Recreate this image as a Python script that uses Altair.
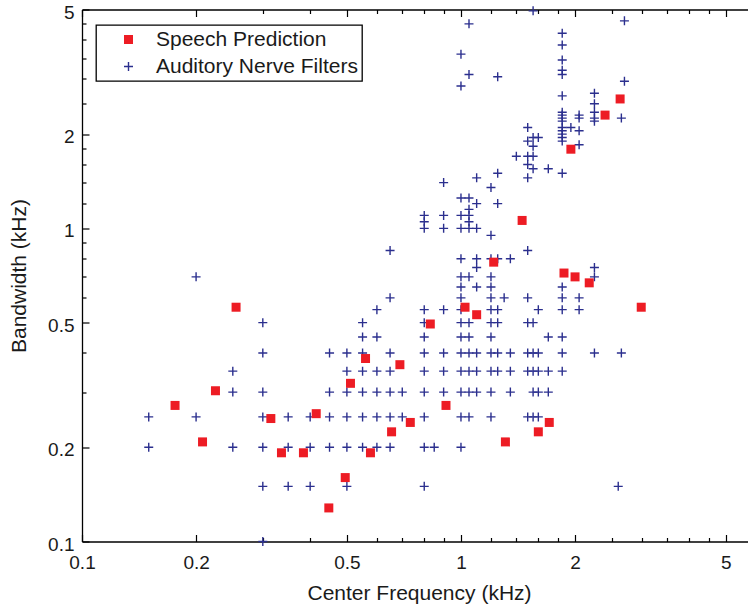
import altair as alt
import pandas as pd

SP = "Speech Prediction"
AN = "Auditory Nerve Filters"

# ---- Speech prediction (red squares) ----
sp_freq = [0.176, 0.208, 0.225, 0.255, 0.315, 0.336, 0.384, 0.415, 0.448, 0.495,
           0.511, 0.56, 0.577, 0.656, 0.69, 0.735, 0.83, 0.913, 1.025, 1.10,
           1.22, 1.31, 1.45, 1.60, 1.71, 1.87, 1.95, 2.0, 2.18, 2.40, 2.63, 2.99]
sp_bw = [0.272, 0.208, 0.303, 0.56, 0.247, 0.192, 0.192, 0.256, 0.128, 0.160,
         0.320, 0.384, 0.192, 0.224, 0.367, 0.24, 0.495, 0.272, 0.56, 0.53,
         0.78, 0.208, 1.06, 0.224, 0.24, 0.72, 1.79, 0.70, 0.67, 2.30, 2.59, 0.56]

# ---- Auditory nerve filters (blue +), grouped by bandwidth level ----
an_bw_levels = [0.1, 0.15, 0.2, 0.25, 0.3, 0.35, 0.4, 0.45, 0.5, 0.55, 0.6, 0.65,
                0.7, 0.75, 0.8, 0.85, 0.95, 1.0, 1.05, 1.1, 1.15, 1.2, 1.25, 1.35,
                1.4, 1.45, 1.5, 1.55, 1.6, 1.7, 1.83, 1.85, 1.9, 1.95, 2.0, 2.05,
                2.1, 2.2, 2.25, 2.3, 2.35, 2.5, 2.65, 2.7, 2.85, 2.95, 3.05, 3.1,
                3.2, 3.45, 3.6, 3.85, 4.2, 4.5, 4.6, 4.95]
an_freq_rows = [
    [0.3],
    [0.3, 0.35, 0.4, 0.5, 0.8, 2.6],
    [0.15, 0.25, 0.3, 0.35, 0.4, 0.45, 0.5, 0.55, 0.6, 0.65, 0.8, 0.85, 1.0],
    [0.15, 0.2, 0.3, 0.35, 0.4, 0.45, 0.5, 0.55, 0.6, 0.65, 0.7, 0.8, 1.0, 1.05, 1.2, 1.5, 1.55, 1.6],
    [0.25, 0.3, 0.45, 0.5, 0.55, 0.6, 0.65, 0.7, 0.8, 0.9, 1.0, 1.05, 1.1, 1.2, 1.35, 1.55, 1.6, 1.7],
    [0.25, 0.5, 0.55, 0.6, 0.65, 0.8, 0.9, 1.0, 1.05, 1.1, 1.2, 1.25, 1.35, 1.5, 1.55, 1.6, 1.7, 1.85],
    [0.3, 0.45, 0.5, 0.55, 0.65, 0.8, 0.9, 1.0, 1.05, 1.1, 1.2, 1.25, 1.35, 1.5, 1.55, 1.6, 1.85, 2.25, 2.65],
    [0.55, 0.6, 0.8, 1.0, 1.05, 1.2, 1.7, 1.85],
    [0.3, 0.55, 0.8, 1.0, 1.05, 1.2, 1.25, 1.5, 1.55],
    [0.6, 0.8, 0.9, 1.0, 1.2, 1.25, 1.6, 1.85, 2.05],
    [0.65, 1.0, 1.2, 1.3, 1.5, 1.85, 2.05],
    [1.0, 1.1, 1.2, 1.85],
    [0.2, 1.0, 1.05, 1.2, 2.25],
    [1.1, 2.25],
    [1.0, 1.1, 1.2, 1.25, 1.35],
    [0.65, 1.5],
    [1.2],
    [0.8, 0.9, 1.0, 1.05, 1.1],
    [0.8, 1.05],
    [0.8, 0.9, 1.0, 1.05],
    [1.05],
    [1.1, 1.25],
    [1.0, 1.05],
    [1.2],
    [0.9],
    [1.1, 1.5],
    [1.25, 1.85],
    [1.55, 1.7],
    [1.5],
    [1.4, 1.5, 1.55],
    [1.55],
    [2.05],
    [1.5, 1.85],
    [1.55, 1.6, 1.85],
    [1.85],
    [1.85, 2.05],
    [1.5, 1.85, 1.95],
    [1.85, 2.25],
    [1.85, 2.05, 2.25, 2.65],
    [1.85, 2.05],
    [1.85, 2.25],
    [2.25],
    [1.85],
    [2.25],
    [1.0],
    [2.7],
    [1.25],
    [1.05, 1.85],
    [1.85],
    [1.85],
    [1.0],
    [1.85],
    [1.85],
    [1.05],
    [2.7],
    [1.55],
]

# ---- axis ticks ----
x_major = [0.1, 0.2, 0.5, 1, 2, 5]
x_minor = [0.3, 0.4, 0.6, 0.7, 0.8, 0.9, 1.2, 1.4, 1.6, 1.8, 2.5, 3, 3.5, 4, 4.5]
y_major = [0.1, 0.2, 0.5, 1, 2, 5]
y_minor = [0.3, 0.4, 0.6, 0.7, 0.8, 0.9, 1.2, 1.4, 1.6, 1.8, 2.5, 3, 3.5, 4, 4.5]
x_domain = [0.1, 5.72]
y_domain = [0.1, 5]

rows = []
for bw, freqs in zip(an_bw_levels, an_freq_rows):
    for f in freqs:
        rows.append({"f": f, "bw": bw, "series": AN})
for f, bw in zip(sp_freq, sp_bw):
    rows.append({"f": f, "bw": bw, "series": SP})
df = pd.DataFrame(rows)
one = pd.DataFrame({"f": [1.0], "bw": [1.0]})

W, H = 666, 532
FONT = "Liberation Sans"
TXT = "#1a1a1a"
RED = "#ed1c24"
BLUE = "#2b2f8e"
PLUS = "M-0.9,0H0.9M0,-0.9V0.9"
SQUARE = "M-0.9,-0.9H0.9V0.9H-0.9Z"

xscale = alt.Scale(type="log", domain=x_domain, nice=False)
yscale = alt.Scale(type="log", domain=y_domain, nice=False)

x_main = alt.Axis(orient="bottom", values=x_major, format="~g", ticks=False, domain=True,
                  labelPadding=12, labelFontSize=19, title="Center Frequency (kHz)",
                  titleFontSize=21, titleX=337, titleY=58, titleBaseline="alphabetic",
                  titleAlign="center")
y_main = alt.Axis(orient="left", values=y_major, format="~g", ticks=False, domain=True,
                  labelPadding=8, labelOffset=2.5, labelFontSize=19, title="Bandwidth (kHz)",
                  titleFontSize=21, titleX=-57, titleY=H / 2, titleAngle=270,
                  titleBaseline="alphabetic", titleAlign="center")


def tick_axis(orient, values, size, offset, domain=False):
    return alt.Axis(orient=orient, values=values, tickSize=size, offset=offset,
                    labels=False, domain=domain, title="")


def leg():
    return alt.Legend(title=None, orient="none", legendX=14, legendY=15.5,
                      labelExpr="datum.label + '\u00a0\u00a0\u00a0'")


dom = [SP, AN]
points = alt.Chart(df).mark_point(size=100, strokeWidth=1.4, opacity=1, filled=True).encode(
    x=alt.X("f:Q", scale=xscale, axis=x_main),
    y=alt.Y("bw:Q", scale=yscale, axis=y_main),
    shape=alt.Shape("series:N", scale=alt.Scale(domain=dom, range=[SQUARE, PLUS]), legend=leg()),
    fill=alt.Fill("series:N", scale=alt.Scale(domain=dom, range=[RED, BLUE]), legend=leg()),
    stroke=alt.Stroke("series:N", scale=alt.Scale(domain=dom, range=["transparent", BLUE]), legend=leg()),
)


def axis_layer(xa, ya):
    return alt.Chart(one).mark_point(opacity=0).encode(
        x=alt.X("f:Q", scale=xscale, axis=xa),
        y=alt.Y("bw:Q", scale=yscale, axis=ya),
    )


l2 = axis_layer(tick_axis("top", x_major, 7, -H), tick_axis("right", y_major, 7, -W))
l3 = axis_layer(tick_axis("top", x_minor, 4, -H), tick_axis("right", y_minor, 4, -W))
l4 = axis_layer(tick_axis("bottom", x_major, 7, -H, domain=True), None)
l5 = axis_layer(tick_axis("bottom", x_minor, 4, -H), None)

chart = alt.layer(points, l2, l3, l4, l5).resolve_axis(
    x="independent", y="independent"
).properties(
    width=W, height=H,
    autosize=alt.AutoSizeParams(type="none"),
    padding={"left": 82, "top": 9.5, "right": 0, "bottom": 65.5},
    background="white",
).configure_view(
    stroke="transparent"
).configure_axis(
    grid=False, labelFont=FONT, titleFont=FONT, labelColor=TXT, titleColor=TXT,
    titleFontWeight="normal", tickColor="black", domainColor="black",
    tickWidth=1.2, domainWidth=1.3, labelFlush=False, labelOverlap=False,
).configure_legend(
    padding=4, rowPadding=5, strokeColor="black", strokeWidth=1.3, fillColor="white",
    labelFont=FONT, labelFontSize=21, labelColor=TXT, symbolSize=100,
    symbolStrokeWidth=1.4, symbolOffset=18, labelOffset=17, labelLimit=400,
    cornerRadius=0,
)

chart.save("out.html", embed_options={"renderer": "svg", "actions": False})
